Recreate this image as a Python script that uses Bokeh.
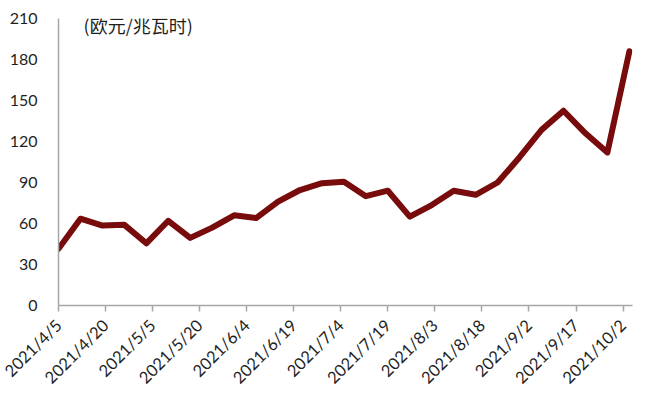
import datetime as dt
from bokeh.plotting import figure
from bokeh.models import FixedTicker, Range1d, Label
from bokeh.embed import file_html
from bokeh.resources import INLINE

# ---- data ----
dates = ["2021-04-05", "2021-04-12", "2021-04-19", "2021-04-26", "2021-05-03",
         "2021-05-10", "2021-05-17", "2021-05-24", "2021-05-31", "2021-06-07",
         "2021-06-14", "2021-06-21", "2021-06-28", "2021-07-05", "2021-07-12",
         "2021-07-19", "2021-07-26", "2021-08-02", "2021-08-09", "2021-08-16",
         "2021-08-23", "2021-08-30", "2021-09-06", "2021-09-13", "2021-09-20",
         "2021-09-27", "2021-10-04"]
prices = [41.5, 63.5, 58.5, 59, 45.5, 62, 49.5, 57, 66, 64,
          76, 84.5, 89.5, 90.5, 80, 84, 65, 73.5, 84, 81,
          90, 108.5, 128.5, 142.5, 126, 112, 186]
tick_dates = ["2021-04-05", "2021-04-20", "2021-05-05", "2021-05-20", "2021-06-04",
              "2021-06-19", "2021-07-04", "2021-07-19", "2021-08-03", "2021-08-18",
              "2021-09-02", "2021-09-17", "2021-10-02"]
tick_labels = ["2021/4/5", "2021/4/20", "2021/5/5", "2021/5/20", "2021/6/4",
               "2021/6/19", "2021/7/4", "2021/7/19", "2021/8/3", "2021/8/18",
               "2021/9/2", "2021/9/17", "2021/10/2"]
y_ticks = [0, 30, 60, 90, 120, 150, 180, 210]
unit_label = "(欧元/兆瓦时)"

def to_ms(s):
    d = dt.datetime.strptime(s, "%Y-%m-%d").replace(tzinfo=dt.timezone.utc)
    return d.timestamp() * 1000.0

xs = [dt.datetime.strptime(s, "%Y-%m-%d") for s in dates]
tick_ms = [to_ms(s) for s in tick_dates]

p = figure(width=640, height=397, x_axis_type="datetime",
           output_backend="svg", toolbar_location=None,
           min_border_left=58, min_border_right=8,
           min_border_top=18, min_border_bottom=92)
p.x_range = Range1d(to_ms("2021-04-05"), to_ms("2021-10-05"))
p.y_range = Range1d(0, 210)
p.outline_line_color = None
p.grid.visible = False
p.background_fill_color = "white"

p.line(xs, prices, line_color="#780c0c", line_width=6, line_join="round", line_cap="round")

font = "Lato"
axis_col = "#a6a6a6"
text_col = "#1f1f1f"

xa = p.xaxis[0]
xa.ticker = FixedTicker(ticks=tick_ms)
xa.major_label_overrides = {t: l for t, l in zip(tick_ms, tick_labels)}
xa.major_label_orientation = 0.785398
xa.axis_line_color = axis_col
xa.axis_line_width = 1.5
xa.major_tick_line_color = axis_col
xa.major_tick_line_width = 1.5
xa.major_tick_out = 6
xa.major_tick_in = 0
xa.minor_tick_line_color = None
xa.major_label_text_font = font
xa.major_label_text_font_size = "16.5px"
xa.major_label_text_color = text_col
xa.major_label_standoff = 11

ya = p.yaxis[0]
ya.ticker = FixedTicker(ticks=y_ticks)
ya.axis_line_color = axis_col
ya.axis_line_width = 1.5
ya.major_tick_line_color = None
ya.minor_tick_line_color = None
ya.major_tick_out = 0
ya.major_tick_in = 0
ya.major_label_standoff = 21
ya.major_label_text_font = font
ya.major_label_text_font_size = "16px"
ya.major_label_text_color = text_col

p.add_layout(Label(x=to_ms("2021-04-13"), y=205, text=unit_label,
                   text_font="Noto Sans CJK SC", text_font_size="18px",
                   text_color=text_col, text_baseline="middle", text_align="left"))

open("out.html", "w").write(file_html(p, INLINE))
